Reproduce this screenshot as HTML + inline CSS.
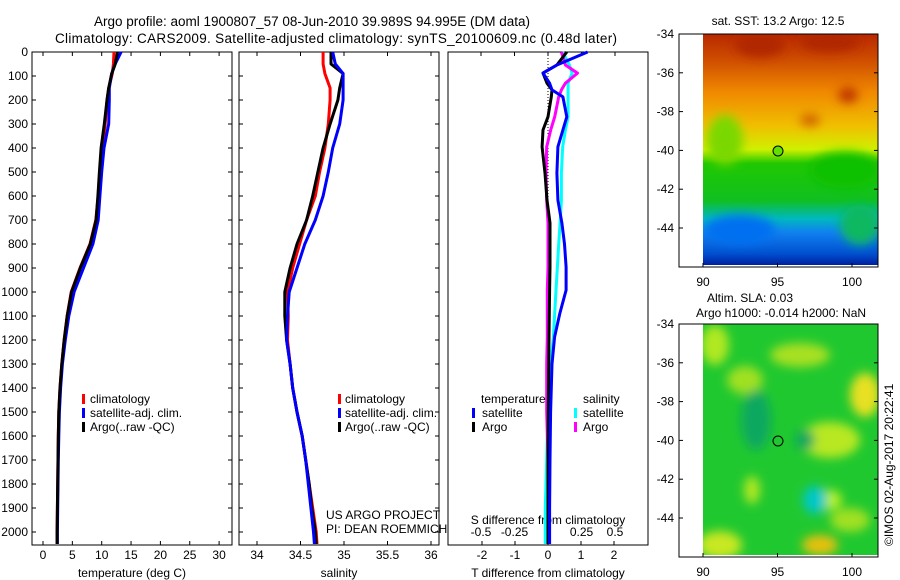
<!DOCTYPE html>
<html><head><meta charset="utf-8"><style>
body{margin:0;background:#fff;}
svg{display:block;font-family:"Liberation Sans",sans-serif;}
text{fill:#000;font-size:12px;}
</style></head><body>
<svg id="fig" width="900" height="580" viewBox="0 0 900 580">
<defs>
<filter id="bl" x="-50%" y="-50%" width="200%" height="200%"><feGaussianBlur stdDeviation="5"/></filter>
<clipPath id="c1"><rect x="703" y="34" width="175" height="231"/></clipPath>
<clipPath id="c2"><rect x="703" y="324" width="175" height="231"/></clipPath>
<linearGradient id="sst" x1="0" y1="0" x2="0" y2="1">
<stop offset="0" stop-color="#b82800"/><stop offset="0.12" stop-color="#d05000"/><stop offset="0.25" stop-color="#f08800"/>
<stop offset="0.4" stop-color="#f0c000"/><stop offset="0.5" stop-color="#d0f000"/><stop offset="0.56" stop-color="#20c800"/>
<stop offset="0.72" stop-color="#10c020"/><stop offset="0.8" stop-color="#00b8c0"/><stop offset="0.86" stop-color="#1080f0"/>
<stop offset="0.95" stop-color="#0050d0"/><stop offset="1" stop-color="#0020a0"/></linearGradient>
</defs>
<g>
<text x="312" y="26" text-anchor="middle" style="font-size:13.5px">Argo profile: aoml 1900807_57 08-Jun-2010 39.989S 94.995E (DM data)</text>
<text x="336" y="43" text-anchor="middle" style="font-size:13.5px" textLength="562">Climatology: CARS2009. Satellite-adjusted climatology: synTS_20100609.nc (0.48d later)</text>
</g>
<g id="axes"></g>
<g id="marks"></g>
<g>
<g clip-path="url(#c1)">
<rect x="703" y="34" width="175" height="231" fill="url(#sst)"/>
<g filter="url(#bl)">
<ellipse cx="760" cy="45" rx="25" ry="12" fill="#b02800"/><ellipse cx="830" cy="42" rx="30" ry="10" fill="#b02800"/>
<ellipse cx="848" cy="95" rx="10" ry="8" fill="#c03800"/><ellipse cx="810" cy="120" rx="10" ry="6" fill="#d06000"/>
<ellipse cx="725" cy="140" rx="18" ry="25" fill="#7ad800"/><ellipse cx="845" cy="170" rx="35" ry="18" fill="#10c000"/>
<ellipse cx="740" cy="230" rx="35" ry="15" fill="#0070f0"/><ellipse cx="860" cy="225" rx="20" ry="20" fill="#10b860"/>
</g></g>
<circle cx="778" cy="151" r="5" fill="#60e000" stroke="#000" stroke-width="1"/>
</g>
<g>
<g clip-path="url(#c2)">
<rect x="703" y="324" width="175" height="231" fill="#20c830"/>
<g filter="url(#bl)">
<ellipse cx="715" cy="345" rx="14" ry="20" fill="#b0e820"/><ellipse cx="800" cy="355" rx="30" ry="12" fill="#a8e020"/>
<ellipse cx="865" cy="395" rx="15" ry="22" fill="#e8e020"/><ellipse cx="830" cy="440" rx="30" ry="18" fill="#b8e820"/>
<ellipse cx="830" cy="500" rx="12" ry="10" fill="#b8f020"/><ellipse cx="752" cy="490" rx="8" ry="14" fill="#b0e820"/>
<ellipse cx="720" cy="545" rx="22" ry="14" fill="#c8e820"/><ellipse cx="820" cy="545" rx="18" ry="10" fill="#e8c010"/>
<ellipse cx="745" cy="380" rx="18" ry="14" fill="#a0e020"/><ellipse cx="850" cy="520" rx="20" ry="12" fill="#a0e020"/>
<ellipse cx="756" cy="420" rx="15" ry="30" fill="#10a860"/><ellipse cx="805" cy="440" rx="10" ry="10" fill="#10a860"/>
<ellipse cx="815" cy="500" rx="12" ry="14" fill="#00c8c8"/>
</g></g>
<circle cx="778" cy="441" r="5" fill="none" stroke="#000" stroke-width="1"/>
</g>
<g>
<text x="778" y="25" text-anchor="middle">sat. SST: 13.2 Argo: 12.5</text>
<text x="750" y="302" text-anchor="middle">Altim. SLA: 0.03</text>
<text x="781" y="317" text-anchor="middle">Argo h1000: -0.014 h2000: NaN</text>
<text transform="translate(893,546) rotate(-90)">©IMOS 02-Aug-2017 20:22:41</text>
</g>
<g>
<rect x="82" y="394" width="3" height="10" fill="#f00"/><text x="90" y="403">climatology</text>
<rect x="82" y="408" width="3" height="10" fill="#00f"/><text x="90" y="417">satellite-adj. clim.</text>
<rect x="82" y="422" width="3" height="10" fill="#000"/><text x="90" y="431">Argo(..raw -QC)</text>
<rect x="338" y="394" width="3" height="10" fill="#f00"/><text x="345" y="403">climatology</text>
<rect x="338" y="408" width="3" height="10" fill="#00f"/><text x="345" y="417">satellite-adj. clim.</text>
<rect x="338" y="422" width="3" height="10" fill="#000"/><text x="345" y="431">Argo(..raw -QC)</text>
<text x="326" y="519">US ARGO PROJECT</text><text x="326" y="533">PI: DEAN ROEMMICH</text>
<text x="481" y="403">temperature</text><text x="583" y="403">salinity</text>
<rect x="472" y="408" width="3" height="10" fill="#00f"/><text x="482" y="417">satellite</text>
<rect x="472" y="422" width="3" height="10" fill="#000"/><text x="482" y="431">Argo</text>
<rect x="574" y="408" width="3" height="10" fill="#0ff"/><text x="583" y="417">satellite</text>
<rect x="574" y="422" width="3" height="10" fill="#f0f"/><text x="583" y="431">Argo</text>
</g>
</svg>
<script>
const depth   =[0,50,90,150,200,300,400,500,600,700,800,900,1000,1100,1200,1300,1400,1500,1600,1700,1800,1900,2000,2050];
const tClim   =[12.1,12.0,11.8,11.2,10.9,10.6,10.1,9.7,9.4,9.0,8.0,6.3,4.8,4.1,3.6,3.2,2.9,2.7,2.6,2.55,2.5,2.45,2.4,2.4];
const tSat    =[13.3,12.3,11.7,11.3,11.3,11.2,10.4,10.0,9.7,9.4,8.5,6.9,5.3,4.4,3.8,3.3,3.0,2.8,2.7,2.6,2.55,2.5,2.45,2.45];
const tArgo   =[12.7,12.3,11.7,11.2,10.9,10.45,9.9,9.6,9.35,9.05,8.05,6.35,4.85,4.13,3.62,3.2,2.9,2.7,2.6,2.55,2.5,2.45,2.4,2.4];
const sClim   =[34.76,34.76,34.78,34.84,34.84,34.82,34.78,34.72,34.67,34.57,34.49,34.41,34.35,34.36,34.35,34.38,34.41,34.46,34.52,34.56,34.6,34.64,34.68,34.69];
const sSat    =[34.87,34.9,34.99,34.99,34.99,34.95,34.87,34.82,34.76,34.67,34.55,34.46,34.37,34.35,34.34,34.38,34.41,34.46,34.52,34.56,34.59,34.62,34.65,34.66];
const sArgo   =[34.85,34.85,34.99,34.95,34.93,34.84,34.76,34.70,34.64,34.57,34.46,34.38,34.32,34.32,34.34,34.38,34.41,34.46,34.52,34.56,34.6,34.63,34.67,34.68];
const dDepth  =[0,54,88,130,158,187,270,325,395,505,617,713,800,896,992,1088,1187,1300,1500,1700,1900,2050];
const dTSat   =[1.2,0.27,-0.15,0.05,0.12,0.45,0.57,0.45,0.3,0.27,0.3,0.42,0.5,0.55,0.55,0.36,0.2,0.12,0.08,0.06,0.05,0.05];
const dTArgo  =[0.57,0.27,-0.15,-0.03,0.12,0.1,0.0,-0.15,-0.18,-0.09,-0.03,0.06,0.06,0.06,0.05,0.04,0.03,0.02,0.01,0.0,0.0,0.0];
const dSSat   =[0.11,0.16,0.18,0.15,0.15,0.15,0.15,0.13,0.11,0.1,0.1,0.09,0.08,0.07,0.06,0.05,0.04,0.02,0.0,-0.01,-0.02,-0.02];
const dSArgo  =[0.1,0.13,0.22,0.13,0.1,0.08,0.05,0.02,-0.01,-0.015,-0.01,0.0,0.0,0.0,-0.005,-0.005,-0.005,-0.01,-0.01,0.0,0.0,0.0];
const depthTicks=[0,100,200,300,400,500,600,700,800,900,1000,1100,1200,1300,1400,1500,1600,1700,1800,1900,2000];
const tTicks=[0,5,10,15,20,25,30];
const sTicks=[34,34.5,35,35.5,36];
const sTickLabels=['34','34.5','35','35.5','36'];
const dtTicks=[-2,-1,0,1,2];
const dsTicks=[-0.5,-0.25,0,0.25,0.5];
const dsTickLabels=['-0.5','-0.25','0','0.25','0.5'];
const latTicks=[-34,-36,-38,-40,-42,-44];
const lonTicks=[90,95,100];

const NS='http://www.w3.org/2000/svg';
const Y=d=>52+d*0.24;
const xT=t=>43+t*5.87;
const xS=s=>257+(s-34)*87;
const xDT=t=>548+t*33;
const xDS=s=>548+s*134;
const axes=document.getElementById('axes'), marks=document.getElementById('marks');
function mk(tag,attrs,parent,txt){const e=document.createElementNS(NS,tag);for(const k in attrs)e.setAttribute(k,attrs[k]);if(txt!==undefined)e.textContent=txt;parent.appendChild(e);return e;}

const panels=[[32,232,'temperature-panel'],[239,439,'salinity-panel'],[448,648,'difference-panel']];
panels.forEach(p=>{
  const r=mk('rect',{x:p[0],y:52,width:p[1]-p[0],height:493,fill:'none',stroke:'#000','stroke-width':1},axes);
  
  
});
depthTicks.forEach(d=>{
  const t=mk('text',{x:28,y:Y(d)+4,'text-anchor':'end'},axes,String(d));
  
  
  [[32,1],[232,-1],[239,1],[439,-1]].forEach(a=>mk('line',{x1:a[0],x2:a[0]+a[1]*4,y1:Y(d),y2:Y(d),stroke:'#000'},axes));
});
tTicks.forEach(v=>{
  const x=xT(v);mk('line',{x1:x,x2:x,y1:545,y2:541,stroke:'#000'},axes);mk('line',{x1:x,x2:x,y1:52,y2:56,stroke:'#000'},axes);
  const t=mk('text',{x:x,y:559,'text-anchor':'middle'},axes,String(v));
  
  
});
sTicks.forEach((v,i)=>{
  const x=xS(v);mk('line',{x1:x,x2:x,y1:545,y2:541,stroke:'#000'},axes);mk('line',{x1:x,x2:x,y1:52,y2:56,stroke:'#000'},axes);
  const t=mk('text',{x:x,y:559,'text-anchor':'middle'},axes,sTickLabels[i]);
  
  
});
dtTicks.forEach(v=>{
  const x=xDT(v);mk('line',{x1:x,x2:x,y1:545,y2:541,stroke:'#000'},axes);
  const t=mk('text',{x:x,y:559,'text-anchor':'middle'},axes,String(v));
  
  
});
dsTicks.forEach((v,i)=>{
  const x=xDS(v);mk('line',{x1:x,x2:x,y1:52,y2:56,stroke:'#000'},axes);
  const t=mk('text',{x:x,y:536,'text-anchor':'middle'},axes,dsTickLabels[i]);
  
  
});
[[132,'temperature (deg C)','x-axis-title-temperature'],[339,'salinity','x-axis-title-salinity'],[548,'T difference from climatology','x-axis-title-t-diff']].forEach(a=>{
  const t=mk('text',{x:a[0],y:577,'text-anchor':'middle'},axes,a[1]);
  
  
});
const st=mk('text',{x:548,y:524,'text-anchor':'middle'},axes,'S difference from climatology');


mk('line',{x1:548,x2:548,y1:52,y2:545,stroke:'#000','stroke-dasharray':'1,2'},axes);

function pts(xs,ds,fx){return xs.map((v,i)=>fx(v).toFixed(1)+','+Y(ds[i]).toFixed(1)).join(' ');}
function line(xs,ds,fx,col,name){
  const p=mk('polyline',{points:pts(xs,ds,fx),fill:'none',stroke:col,'stroke-width':3,'stroke-linejoin':'round'},marks);
  
  
}
line(tClim,depth,xT,'#f00','temp-climatology-line');
line(tSat,depth,xT,'#00f','temp-satellite-line');
line(tArgo,depth,xT,'#000','temp-argo-line');
line(sClim,depth,xS,'#f00','sal-climatology-line');
line(sArgo,depth,xS,'#000','sal-argo-line');
line(sSat,depth,xS,'#00f','sal-satellite-line');
line(dSSat,dDepth,xDS,'#0ff','s-diff-satellite-line');
line(dSArgo,dDepth,xDS,'#f0f','s-diff-argo-line');
line(dTArgo,dDepth,xDT,'#000','t-diff-argo-line');
line(dTSat,dDepth,xDT,'#00f','t-diff-satellite-line');

const lonX=l=>703+(l-90)*14.9;
const root=document.getElementById('fig');
[[34,267,'sst-map-axes'],[324,557,'sla-map-axes']].forEach(m=>{
  const r=mk('rect',{x:679,y:m[0],width:199,height:m[1]-m[0],fill:'none',stroke:'#000'},root);
  
  
  latTicks.forEach(l=>{
    const y=m[0]+(-34-l)*19.4;
    mk('line',{x1:679,x2:683,y1:y,y2:y,stroke:'#000'},root);
    mk('line',{x1:878,x2:874,y1:y,y2:y,stroke:'#000'},root);
    const t=mk('text',{x:674,y:y+4,'text-anchor':'end'},root,String(l));
    
    
  });
  lonTicks.forEach(l=>{
    const x=lonX(l);
    mk('line',{x1:x,x2:x,y1:m[1],y2:m[1]-4,stroke:'#000'},root);
    const t=mk('text',{x:x,y:m[1]+19,'text-anchor':'middle'},root,String(l));
    
    
  });
});
</script>
</body></html>
